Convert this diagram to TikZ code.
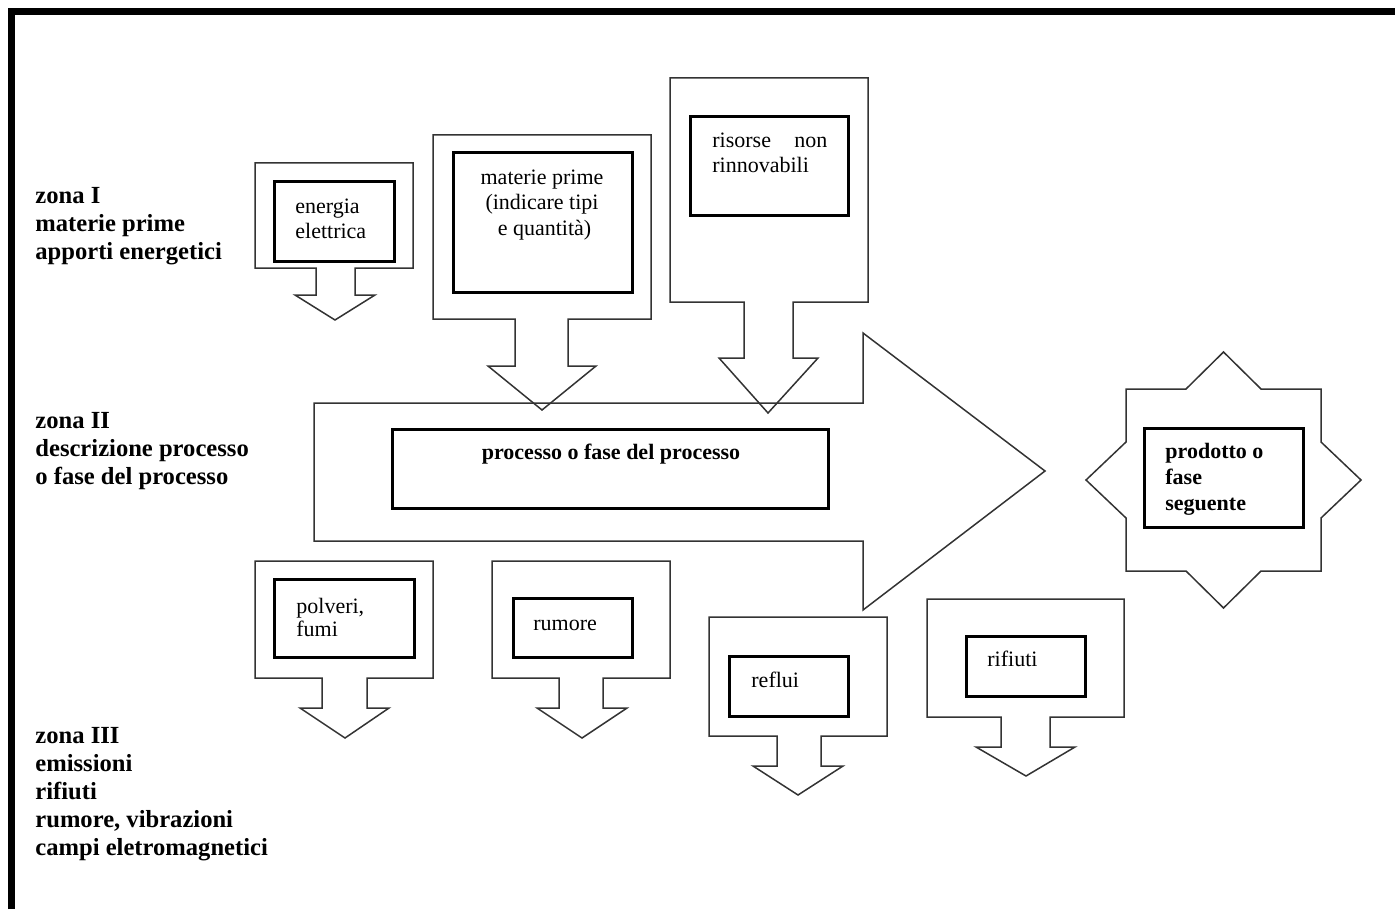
\documentclass[tikz,border=0pt]{standalone}
\usepackage{fontspec}
\setmainfont{Liberation Serif}
\usetikzlibrary{fit}
\begin{document}
\begin{tikzpicture}[x=0.5pt,y=-0.5pt,
  outer/.style={draw=black!80, line width=0.75pt, line join=miter},
  ibox/.style={draw=black, line width=1.5pt, inner sep=0pt},
  btxt/.style={font=\fontsize{11}{12.75}\selectfont, inner sep=0pt, text=black},
  bbold/.style={font=\fontsize{11}{13}\selectfont\bfseries, inner sep=0pt, text=black},
  zone/.style={font=\fontsize{12.3}{14}\selectfont\bfseries, inner sep=0pt, align=left, anchor=north west, text=black}]
\useasboundingbox (0,0) rectangle (1395,909);
% frame
\draw[line width=3.5pt] (11.5,909) -- (11.5,12) -- (1395,12);

% zone labels
\node[zone] (z1) at (35,183.4) {\strut zona I\\materie prime\\apporti energetici};
\node[zone] (z2) at (35,408.4) {\strut zona II\\descrizione processo\\o fase del processo};
\node[zone] (z3) at (35,723) {\strut zona III\\emissioni\\rifiuti\\rumore, vibrazioni\\campi eletromagnetici};

% zone I shapes
\draw[outer] (255,163) -- (413,163) -- (413,268) -- (355,268) -- (355,295) -- (375,295) -- (335,320) -- (295,295) -- (316,295) -- (316,268) -- (255,268) -- cycle;
\node[ibox, fit={(274,182) (394,261)}] (enBox) {};
\node[btxt, align=left, anchor=north west] (enTxt) at (295,195.2) {\strut energia\\elettrica};

\draw[outer] (433,135) -- (651,135) -- (651,319) -- (568,319) -- (568,366) -- (596,366) -- (542,410) -- (488,366) -- (515,366) -- (515,319) -- (433,319) -- cycle;
\node[ibox, fit={(453,153) (632,292)}] (mpBox) {};
\node[btxt, align=center, anchor=north] (mpTxt) at (542,166.2) {\strut materie prime\\(indicare tipi\\\hspace*{2.5pt}e quantità)};

\draw[outer] (670,78) -- (868,78) -- (868,302) -- (793,302) -- (793,358) -- (818,358) -- (768,413) -- (719,358) -- (744,358) -- (744,302) -- (670,302) -- cycle;
\node[ibox, fit={(690,117) (848,215)}] (riBox) {};
\node[btxt, align=left, anchor=north west] (riTxt) at (712,129.2) {\strut\hbox to 57.5pt{risorse\hfill non}\\rinnovabili};

% zone II
\draw[outer] (314,403) -- (863,403) -- (863,333) -- (1045,471) -- (863,610) -- (863,541) -- (314,541) -- cycle;
\node[ibox, fit={(392,429) (828,508)}] (prBox) {};
\node[bbold, anchor=base] (prTxt) at (611,459) {processo o fase del processo};

\draw[outer] (1126,389) -- (1186,389) -- (1223.5,352) -- (1261,389) -- (1321,389) -- (1321,442) -- (1361,480) -- (1321,518) -- (1321,571) -- (1261,571) -- (1223.5,608) -- (1186,571) -- (1126,571) -- (1126,518) -- (1086,480) -- (1126,442) -- cycle;
\node[ibox, fit={(1144,428) (1303,527)}] (pdBox) {};
\node[bbold, align=left, anchor=north west] (pdTxt) at (1165,439.8) {\strut prodotto o\\fase\\seguente};

% zone III
\draw[outer] (255,561) -- (433,561) -- (433,678) -- (367,678) -- (367,708) -- (389,708) -- (345,738) -- (300,708) -- (322,708) -- (322,678) -- (255,678) -- cycle;
\node[ibox, fit={(274,579) (414,657)}] (poBox) {};
\node[font=\fontsize{11}{11.75}\selectfont, inner sep=0pt, align=left, anchor=north west] (poTxt) at (296,596.3) {\strut polveri,\\fumi};

\draw[outer] (492,561) -- (670,561) -- (670,678) -- (603,678) -- (603,708) -- (627,708) -- (582,738) -- (537,708) -- (559,708) -- (559,678) -- (492,678) -- cycle;
\node[ibox, fit={(513,598) (632,657)}] (ruBox) {};
\node[btxt, anchor=base west] (ruTxt) at (533,630) {rumore};

\draw[outer] (709,617) -- (887,617) -- (887,736) -- (821,736) -- (821,766) -- (843,766) -- (798,795) -- (753,766) -- (777,766) -- (777,736) -- (709,736) -- cycle;
\node[ibox, fit={(729,656) (848,716)}] (reBox) {};
\node[btxt, anchor=base west] (reTxt) at (751,687) {reflui};

\draw[outer] (927,599) -- (1124,599) -- (1124,717) -- (1050,717) -- (1050,747) -- (1075,747) -- (1026,776) -- (976,747) -- (1001,747) -- (1001,717) -- (927,717) -- cycle;
\node[ibox, fit={(966,636) (1085,696)}] (rfBox) {};
\node[btxt, anchor=base west] (rfTxt) at (987,666) {rifiuti};
\end{tikzpicture}
\end{document}
